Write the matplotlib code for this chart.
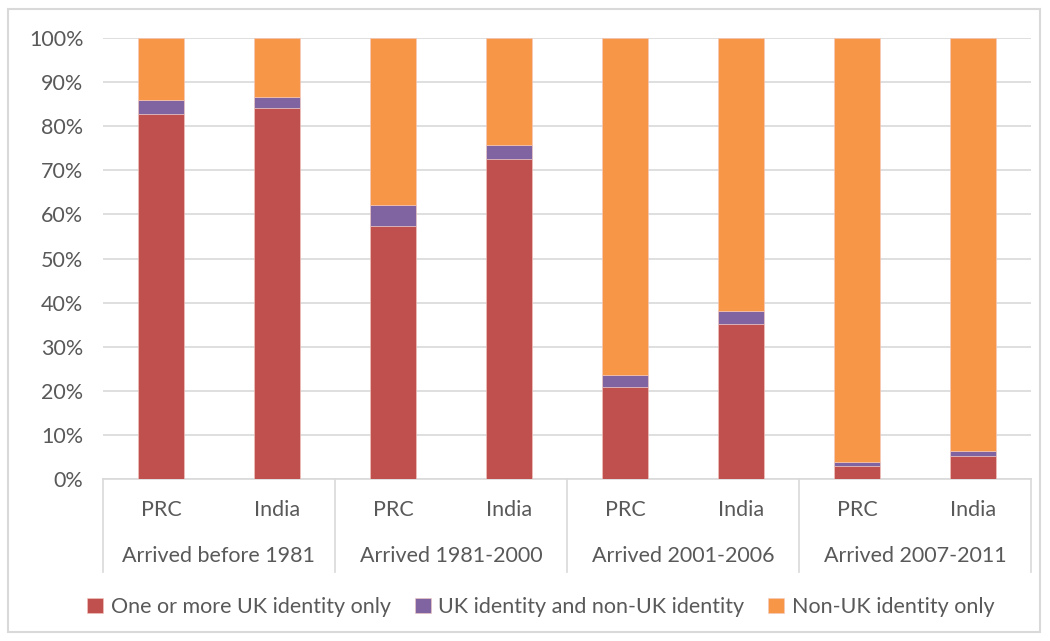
import numpy as np
import matplotlib.pyplot as plt
from matplotlib.patches import Rectangle
from matplotlib.transforms import blended_transform_factory

plt.rcParams['font.family'] = ['Lato', 'DejaVu Sans']

groups = ["Arrived before 1981", "Arrived 1981-2000", "Arrived 2001-2006", "Arrived 2007-2011"]
countries = ["PRC", "India"]

# percent of each bar, order: PRC, India per period
uk_only = [82.8, 84.2, 57.4, 72.6, 20.9, 35.2, 3.0, 5.3]
uk_and_non = [3.1, 2.4, 4.7, 3.1, 2.6, 2.9, 0.8, 1.1]
non_uk = [100 - a - b for a, b in zip(uk_only, uk_and_non)]

series_names = ["One or more UK identity only", "UK identity and non-UK identity", "Non-UK identity only"]
colors = ["#C0504D", "#8064A2", "#F79646"]
txt = "#595959"
grid = "#D9D9D9"
fs = 15.5

fig = plt.figure(figsize=(10.5, 6.41), dpi=100)
ax = fig.add_axes([0.098, 0.2527, 0.884, 0.688])

x = np.arange(len(uk_only))
bottom = np.zeros(len(x))
for vals, c, name in zip([uk_only, uk_and_non, non_uk], colors, series_names):
    ax.bar(x, vals, width=0.4, bottom=bottom, color=c, label=name,
           edgecolor="#f4c9c0", linewidth=0.4, zorder=3)
    bottom += np.array(vals)

ax.set_xlim(-0.5, len(x) - 0.5)
ax.set_ylim(0, 100)
ax.set_yticks(np.arange(0, 101, 10))
ax.set_yticklabels([f"{v}%" for v in range(0, 101, 10)])
ax.yaxis.grid(True, color=grid, linewidth=1.2, zorder=0)
ax.tick_params(axis="y", length=0, labelsize=fs, colors=txt, pad=14)
ax.tick_params(axis="x", length=0, labelbottom=False)
for s in ["top", "right", "left"]:
    ax.spines[s].set_visible(False)
ax.spines["bottom"].set_color(grid)
ax.spines["bottom"].set_linewidth(1.2)

# two-level category axis
tr = blended_transform_factory(ax.transData, ax.transAxes)
for i in x:
    ax.text(i, -0.07, countries[i % 2], transform=tr, ha="center", va="center",
            fontsize=fs, color=txt)
for g, name in enumerate(groups):
    ax.text(2 * g + 0.5, -0.175, name, transform=tr, ha="center", va="center",
            fontsize=fs, color=txt)
for b in np.arange(-0.5, len(x), 2):
    ax.plot([b, b], [0, -0.21], transform=tr, color=grid, linewidth=1.2, clip_on=False)

leg = fig.legend(loc="center", bbox_to_anchor=(0.515, 0.053), ncol=3, frameon=False,
                 fontsize=fs, handlelength=0.75, handleheight=0.75, handletextpad=0.35,
                 columnspacing=1.1)
for t in leg.get_texts():
    t.set_color(txt)

fig.patches.append(Rectangle((8 / 1050, 9 / 641), 1032 / 1050, 623 / 641,
                             transform=fig.transFigure, fill=False,
                             edgecolor=grid, linewidth=1.5))

fig.savefig("out.png", dpi=100)
